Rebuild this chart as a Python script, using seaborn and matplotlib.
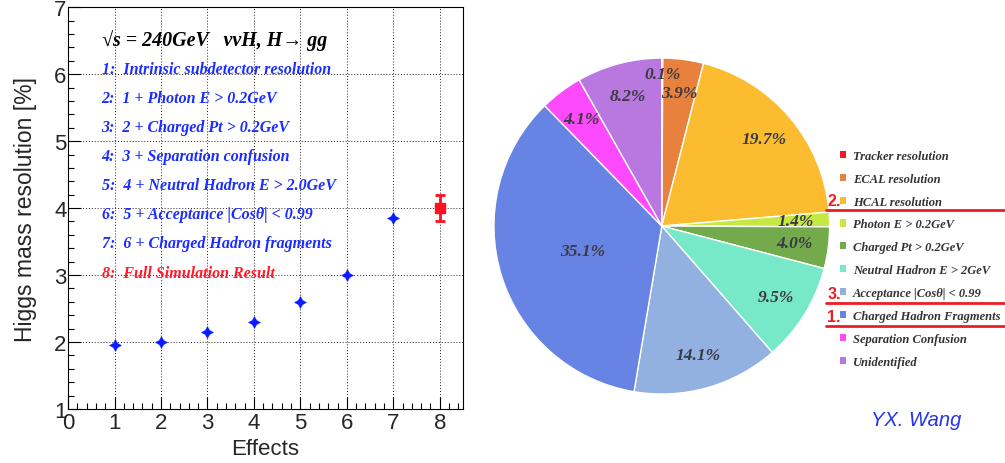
import matplotlib
matplotlib.use("Agg")
import matplotlib.pyplot as plt
import seaborn as sns
import pandas as pd
from matplotlib.ticker import MultipleLocator, AutoMinorLocator
from matplotlib.patches import Patch
from matplotlib.lines import Line2D

# left panel: resolution vs. effects
effects = [1, 2, 3, 4, 5, 6, 7]
resolution = [1.95, 2.0, 2.15, 2.3, 2.6, 3.0, 3.85]
full_sim_x = [8]
full_sim_y = [4.0]
full_sim_err = [0.2]

effect_labels = [
    "1:  Intrinsic subdetector resolution",
    "2:  1 + Photon E > 0.2GeV",
    "3:  2 + Charged Pt > 0.2GeV",
    "4:  3 + Separation confusion",
    "5:  4 + Neutral Hadron E > 2.0GeV",
    "6:  5 + Acceptance |Cosθ| < 0.99",
    "7:  6 + Charged Hadron fragments",
]
full_sim_label = "8:  Full Simulation Result"
header = "√s = 240GeV   ννH, H→ gg"

# right panel: pie of contributions
contrib_labels = [
    "Tracker resolution", "ECAL resolution", "HCAL resolution",
    "Photon E > 0.2GeV", "Charged Pt > 0.2GeV", "Neutral Hadron E > 2GeV",
    "Acceptance |Cosθ| < 0.99", "Charged Hadron Fragments",
    "Separation Confusion", "Unidentified",
]
contrib_values = [0.1, 3.9, 19.7, 1.4, 4.0, 9.5, 14.1, 35.1, 4.1, 8.2]
contrib_colors = ["#ee1c24", "#e8813d", "#fbbd2f", "#c5e843", "#72aa4c",
                  "#78e9c8", "#92b1e1", "#6784e4", "#fd4afc", "#b977e0"]

sns.set_theme(style="white")
serif = ["Liberation Serif", "DejaVu Serif"]
sans = ["Liberation Sans", "DejaVu Sans"]
plt.rcParams["font.family"] = sans

fig = plt.figure(figsize=(10.05, 4.64), dpi=100)

# ---- left plot ----
ax = fig.add_axes([0.0677, 0.1164, 0.393, 0.866])
df = pd.DataFrame({"effect": effects, "res": resolution})
sns.scatterplot(data=df, x="effect", y="res", ax=ax, marker=(4, 1, 0),
                s=75, color="#0a1cff", edgecolor="#0a1cff", linewidth=0.3, zorder=3)
ax.errorbar(full_sim_x, full_sim_y, yerr=full_sim_err, fmt="s", color="#ff1020",
            markersize=7, capsize=3.5, elinewidth=2, capthick=2, zorder=3)

ax.set_xlim(0, 8.5)
ax.set_ylim(1, 7)
ax.xaxis.set_major_locator(MultipleLocator(1))
ax.yaxis.set_major_locator(MultipleLocator(1))
ax.xaxis.set_minor_locator(AutoMinorLocator(5))
ax.yaxis.set_minor_locator(AutoMinorLocator(5))
ax.tick_params(which="both", direction="in", left=True, bottom=True, top=False, right=False,
               color="black")
ax.tick_params(which="major", length=9, width=0.8, labelsize=16, pad=2)
ax.tick_params(which="minor", length=4.5, width=0.8)
ax.tick_params(axis="y", pad=1)
ax.grid(True, which="major", linestyle=(0, (1, 2)), color="#222222", linewidth=0.7)
for sp in ax.spines.values():
    sp.set_color("black")
    sp.set_linewidth(0.8)
ax.set_xlabel("Effects", fontsize=16, labelpad=4)
ax.set_ylabel("Higgs mass resolution [%]", fontsize=16.5, labelpad=12)

ax.text(0.085, 0.92, header, transform=ax.transAxes, family=serif, fontsize=14.4,
        fontweight="bold", fontstyle="italic", color="black", va="center")
for i, lab in enumerate(effect_labels):
    ax.text(0.085, 0.847 - i * 0.0725, lab, transform=ax.transAxes, family=serif,
            fontsize=11.5, fontweight="bold", fontstyle="italic", color="#1a2cff", va="center")
ax.text(0.085, 0.847 - 7 * 0.0725, full_sim_label, transform=ax.transAxes, family=serif,
        fontsize=11.5, fontweight="bold", fontstyle="italic", color="#ff1a2a", va="center")

# ---- right pie ----
pax = fig.add_axes([0.4915, 0.1487, 0.334, 0.724])
wedges, _, autotexts = pax.pie(contrib_values, colors=contrib_colors, startangle=90,
                               counterclock=False, autopct="%.1f%%", pctdistance=0.8,
                               wedgeprops=dict(edgecolor="white", linewidth=1.0),
                               textprops=dict(family=serif, fontsize=12.5, fontweight="bold",
                                              fontstyle="italic", color="#3a3a44"))
pax.set_xlim(-1, 1)
pax.set_ylim(-1, 1)
pax.set_aspect("auto")
pax.axis("off")
# nudge labels of the biggest and the tiniest slice
big = contrib_values.index(max(contrib_values))
small = contrib_values.index(min(contrib_values))
x, y = autotexts[big].get_position()
autotexts[big].set_position((x * 0.62, y * 0.62))
x, y = autotexts[small].get_position()
autotexts[small].set_position((x * 1.13, y * 1.13))

handles = [Patch(facecolor=c, edgecolor="none") for c in contrib_colors]
fig.legend(handles, contrib_labels, loc="upper left", bbox_to_anchor=(0.836, 0.675),
           frameon=False, handlelength=0.5, handleheight=0.5, handletextpad=0.5,
           labelspacing=0.87, borderpad=0, borderaxespad=0,
           prop=dict(family=serif, size=9, weight="bold", style="italic"),
           labelcolor="#333333")

# red markers on the legend
for ypix, txt in [(211, "2."), (304, "3."), (327, "1.")]:
    yf = 1 - ypix / 464
    fig.add_artist(Line2D([826 / 1005, 1.0], [yf, yf], color="#ee1c24", linewidth=2))
    fig.text(834 / 1005, yf + 0.004, txt, color="#ee1c24", fontsize=11.5,
             fontweight="bold", ha="center", va="bottom")

fig.text(0.912, 0.093, "YX. Wang", color="#2234ee", fontsize=14.5, fontstyle="italic",
         ha="center", va="center")

fig.savefig("out.png", dpi=100)
